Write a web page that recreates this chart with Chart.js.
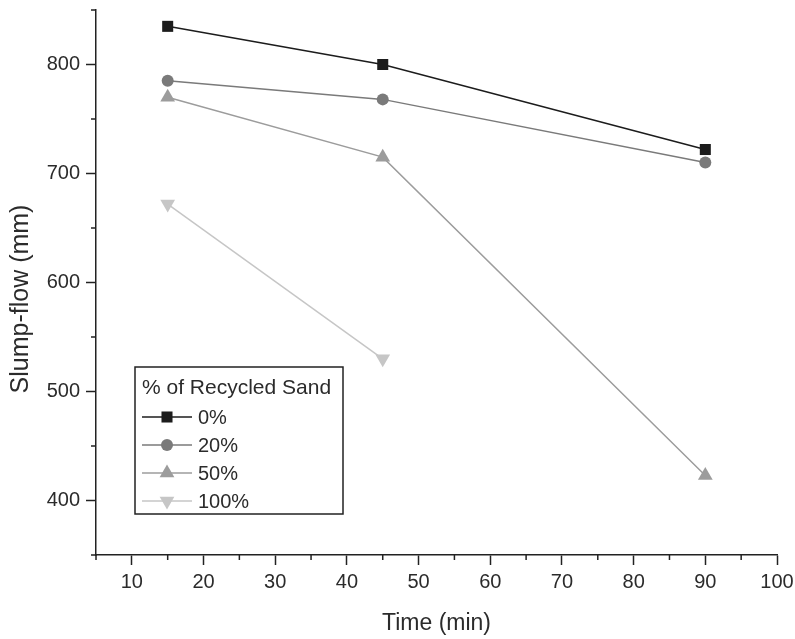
<!DOCTYPE html>
<html>
<head>
<meta charset="utf-8">
<title>Slump-flow vs time</title>
<script src="https://cdn.jsdelivr.net/npm/chart.js@4.4.1/dist/chart.umd.min.js"></script>
<style>
    html, body { margin: 0; padding: 0; background: #fff; }
    #wrap { width: 795px; height: 639px; }
</style>
</head>
<body>
<div id="wrap"><canvas id="chart" width="795" height="639"></canvas></div>
<script>
// values
var times = [15, 45, 90];
var seriesNames = ['0%', '20%', '50%', '100%'];
var sand0 = [835, 800, 722];
var sand20 = [785, 768, 710];
var sand50 = [770, 715, 423];
var sand100 = [672, 530];

var legendTitle = '% of Recycled Sand';
var xTitle = 'Time (min)';
var yTitle = 'Slump-flow (mm)';
var xRange = [5, 100];
var yRange = [350, 850];

var FONT = "'Liberation Sans', Arial, Helvetica, sans-serif";
var AXIS = '#222';
var TEXT = '#2b2b2b';

function toPoints(values) {
    return values.map(function (v, i) { return {x: times[i], y: v}; });
}

function series(label, values, color, style, radius, rotation) {
    return {
        label: label,
        data: toPoints(values),
        borderColor: color,
        backgroundColor: color,
        borderWidth: 1.5,
        pointStyle: style,
        pointRadius: radius,
        pointRotation: rotation || 0,
        pointBorderWidth: 0,
        pointBackgroundColor: color,
        tension: 0
    };
}

// minor ticks are shorter than the labelled ones
var minorTicks = {
    id: 'minorTicks',
    afterDraw: function (chart) {
        var ctx = chart.ctx;
        var x = chart.scales.x, y = chart.scales.y;
        ctx.save();
        ctx.strokeStyle = AXIS;
        ctx.lineWidth = 1.5;
        ctx.beginPath();
        x.ticks.forEach(function (t) {
            if (t.value % 10 !== 0) {
                var px = x.getPixelForValue(t.value);
                ctx.moveTo(px, x.top);
                ctx.lineTo(px, x.top + 5);
            }
        });
        y.ticks.forEach(function (t) {
            if (t.value % 100 !== 0) {
                var py = y.getPixelForValue(t.value);
                ctx.moveTo(y.right, py);
                ctx.lineTo(y.right - 5, py);
            }
        });
        ctx.stroke();
        ctx.restore();
    }
};

// y title sits a bit below the middle of the axis in the original
var yAxisTitle = {
    id: 'yAxisTitle',
    afterDraw: function (chart) {
        var ctx = chart.ctx;
        ctx.save();
        ctx.translate(21, 299);
        ctx.rotate(-Math.PI / 2);
        ctx.fillStyle = TEXT;
        ctx.font = '25px ' + FONT;
        ctx.textAlign = 'center';
        ctx.textBaseline = 'middle';
        ctx.fillText(yTitle, 0, 0);
        ctx.restore();
    }
};

// boxed legend sitting inside the plot
var boxLegend = {
    id: 'boxLegend',
    afterDraw: function (chart) {
        var ctx = chart.ctx;
        var left = 135, top = 367, width = 208, height = 147;
        ctx.save();
        ctx.strokeStyle = AXIS;
        ctx.lineWidth = 1.5;
        ctx.strokeRect(left, top, width, height);

        ctx.fillStyle = TEXT;
        ctx.font = '21px ' + FONT;
        ctx.textBaseline = 'middle';
        ctx.textAlign = 'left';
        ctx.fillText(legendTitle, left + 7, top + 21);

        ctx.font = '20px ' + FONT;
        chart.data.datasets.forEach(function (ds, i) {
            var cy = top + 50 + i * 28;
            ctx.strokeStyle = ds.borderColor;
            ctx.lineWidth = ds.borderWidth;
            ctx.beginPath();
            ctx.moveTo(left + 7, cy);
            ctx.lineTo(left + 57, cy);
            ctx.stroke();
            ctx.fillStyle = ds.backgroundColor;
            Chart.helpers.drawPoint(ctx, {
                pointStyle: ds.pointStyle,
                radius: ds.pointRadius,
                rotation: ds.pointRotation,
                borderWidth: 0
            }, left + 32, cy);
            ctx.fillStyle = TEXT;
            ctx.fillText(ds.label, left + 63, cy + 1);
        });
        ctx.restore();
    }
};

var ctx = document.getElementById('chart').getContext('2d');
var chart = new Chart(ctx, {
    type: 'line',
    data: {
        datasets: [
            series(seriesNames[0], sand0, '#1c1c1c', 'rect', 7.8),
            series(seriesNames[1], sand20, '#7a7a7a', 'circle', 6),
            series(seriesNames[2], sand50, '#9c9c9c', 'triangle', 8.5),
            series(seriesNames[3], sand100, '#c6c6c6', 'triangle', 8.5, 180)
        ]
    },
    options: {
        responsive: false,
        animation: false,
        devicePixelRatio: 1,
        layout: {padding: {top: 10, right: 18, left: 0, bottom: 0}},
        plugins: {
            legend: {display: false},
            tooltip: {enabled: false}
        },
        scales: {
            x: {
                type: 'linear',
                position: 'bottom',
                min: xRange[0],
                max: xRange[1],
                afterFit: function (s) {
                    s.height = 84;
                    s.paddingLeft = 0;
                    s.paddingRight = 0;
                },
                border: {color: AXIS, width: 1.5},
                grid: {
                    drawOnChartArea: false,
                    tickLength: 10,
                    tickWidth: 1.5,
                    tickColor: function (c) {
                        return c.tick && c.tick.value % 10 === 0 ? AXIS : 'rgba(0,0,0,0)';
                    }
                },
                ticks: {
                    stepSize: 5,
                    autoSkip: false,
                    maxRotation: 0,
                    padding: 5,
                    color: TEXT,
                    font: {family: FONT, size: 20},
                    callback: function (v) { return v % 10 === 0 ? v : ''; }
                },
                title: {
                    display: true,
                    text: xTitle,
                    color: TEXT,
                    font: {family: FONT, size: 23},
                    padding: {top: 0, bottom: 2}
                }
            },
            y: {
                type: 'linear',
                min: yRange[0],
                max: yRange[1],
                afterFit: function (s) {
                    s.width = 96;
                    s.paddingTop = 0;
                    s.paddingBottom = 0;
                },
                border: {color: AXIS, width: 1.5},
                grid: {
                    drawOnChartArea: false,
                    tickLength: 10,
                    tickWidth: 1.5,
                    tickColor: function (c) {
                        return c.tick && c.tick.value % 100 === 0 ? AXIS : 'rgba(0,0,0,0)';
                    }
                },
                ticks: {
                    stepSize: 50,
                    autoSkip: false,
                    padding: 6,
                    color: TEXT,
                    font: {family: FONT, size: 20},
                    callback: function (v) { return v % 100 === 0 ? v : ''; }
                },
                title: {display: false, text: yTitle}
            }
        }
    },
    plugins: [minorTicks, yAxisTitle, boxLegend]
});
</script>
</body>
</html>
